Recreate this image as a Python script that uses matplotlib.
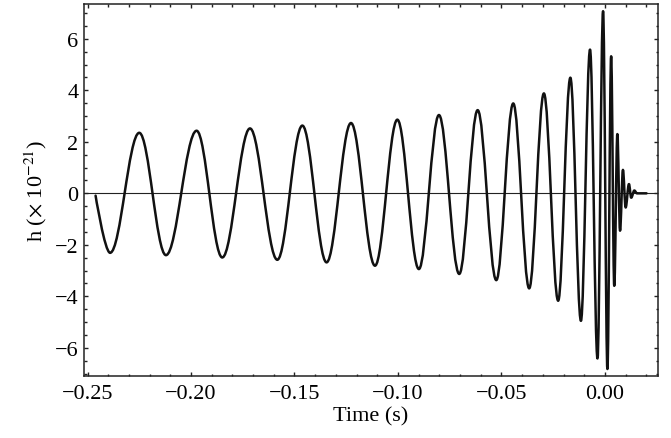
import numpy as np
import matplotlib
matplotlib.use("Agg")
import matplotlib.pyplot as plt
from matplotlib.path import Path
from matplotlib.patches import PathPatch
from matplotlib.ticker import MultipleLocator, FuncFormatter

# strain waveform: start, extrema, then the flat tail
times = [-0.2461, -0.2391, -0.2250, -0.2121, -0.1973, -0.1849, -0.1715,
         -0.1583, -0.1462, -0.1345, -0.1227, -0.1111, -0.1003, -0.0899,
         -0.0802, -0.0704, -0.0615, -0.0525, -0.0443, -0.0366, -0.0295,
         -0.0226, -0.0167, -0.0116, -0.0072, -0.0036, -0.0009, 0.0012,
         0.0030, 0.0045, 0.0060, 0.0073, 0.0087, 0.0100, 0.0116, 0.0127,
         0.0142, 0.0155, 0.0201]
strain = [-0.09, -2.31, 2.35, -2.40, 2.43, -2.49, 2.52,
          -2.58, 2.63, -2.68, 2.73, -2.81, 2.86, -2.94,
          3.04, -3.13, 3.23, -3.37, 3.49, -3.69, 3.88,
          -4.17, 4.49, -4.95, 5.58, -6.41, 7.07, -6.82,
          5.32, -3.59, 2.30, -1.45, 0.91, -0.55, 0.36, -0.17,
          0.11, 0.0, 0.0]

xticks = [-0.25, -0.20, -0.15, -0.10, -0.05, 0.00]
yticks = [-6, -4, -2, 0, 2, 4, 6]

plt.rcParams['font.family'] = ['Liberation Serif', 'DejaVu Serif']
plt.rcParams['mathtext.fontset'] = 'stix'
plt.rcParams['axes.unicode_minus'] = True

fig = plt.figure(figsize=(6.71, 4.39), dpi=100)
ax = fig.add_axes([0.1252, 0.1419, 0.855, 0.8467])

# smooth curve: cubic segments between extrema, flat tangent at each extremum
k = 0.364
verts = [(times[0], strain[0])]
codes = [Path.MOVETO]
for i in range(1, len(times)):
    t0, h0 = times[i - 1], strain[i - 1]
    t1, h1 = times[i], strain[i]
    dt = t1 - t0
    if i == 1:
        c1 = (t0, h0)
    else:
        c1 = (t0 + k * dt, h0)
    c2 = (t1 - k * dt, h1)
    verts += [c1, c2, (t1, h1)]
    codes += [Path.CURVE4] * 3
ax.add_patch(PathPatch(Path(verts, codes), facecolor='none',
                       edgecolor='#111111', lw=1.8, capstyle='round',
                       joinstyle='round', zorder=3))

ax.axhline(0, color='#222222', lw=0.8, zorder=2)


def minus_fmt(fmt):
    return FuncFormatter(lambda v, pos: (fmt % v).replace('-', '\u2212')
                         if abs(v) > 1e-9 else fmt % 0)


ax.set_xlim(-0.2517, 0.0255)
ax.set_ylim(-7.08, 7.35)
ax.set_xticks(xticks)
ax.set_yticks(yticks)
ax.xaxis.set_minor_locator(MultipleLocator(0.01))
ax.yaxis.set_minor_locator(MultipleLocator(0.5))
ax.xaxis.set_major_formatter(minus_fmt('%.2f'))
ax.yaxis.set_major_formatter(minus_fmt('%d'))
ax.tick_params(which='both', direction='in', top=True, right=True,
               width=1.0, color='#222222', labelsize=16)
ax.tick_params(which='major', length=3.2)
ax.tick_params(which='minor', length=1.8)
ax.tick_params(axis='x', pad=6)
ax.tick_params(axis='y', pad=4)
for s in ax.spines.values():
    s.set_linewidth(1.1)
    s.set_color('#222222')

ax.set_xlabel('Time (s)', fontsize=16, labelpad=2)
ax.set_ylabel(r'h ($\times$ 10$^{-21}$)', fontsize=16, labelpad=4)

fig.savefig('out.png', dpi=100)
